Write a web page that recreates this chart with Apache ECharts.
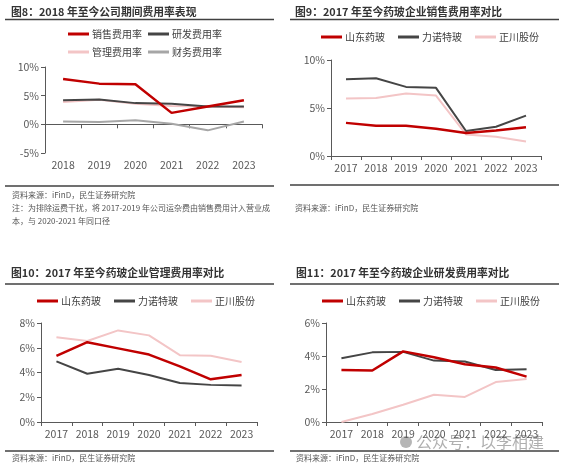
<!DOCTYPE html>
<html><head><meta charset="utf-8">
<script src="https://cdn.jsdelivr.net/npm/echarts@6/dist/echarts.min.js"></script>
<style>html,body{margin:0;padding:0;background:#fff}#c{width:567px;height:465px}</style>
</head><body><div id="c"></div>
<script>
const years8 = ['2018','2019','2020','2021','2022','2023'];
const years = ['2017','2018','2019','2020','2021','2022','2023'];
const sales8 = [7.9, 7.1, 7.0, 2.0, 3.1, 4.2];
const rd8 = [4.2, 4.35, 3.7, 3.6, 3.1, 3.1];
const admin8 = [3.9, 4.3, 3.6, 3.2, 3.1, 3.0];
const fin8 = [0.5, 0.4, 0.7, 0.1, -1.05, 0.5];
const salesSD = [3.45, 3.15, 3.15, 2.85, 2.4, 2.65, 3.0];
const salesLN = [8.0, 8.1, 7.2, 7.1, 2.6, 3.05, 4.2];
const salesZC = [6.0, 6.05, 6.5, 6.3, 2.25, 2.0, 1.5];
const adminSD = [5.35, 6.45, 5.95, 5.45, 4.5, 3.45, 3.8];
const adminLN = [4.9, 3.9, 4.3, 3.8, 3.15, 3.0, 2.95];
const adminZC = [6.85, 6.55, 7.4, 7.0, 5.4, 5.35, 4.85];
const rdSD = [3.15, 3.12, 4.28, 3.92, 3.5, 3.3, 2.75];
const rdLN = [3.87, 4.22, 4.25, 3.72, 3.67, 3.15, 3.2];
const rdZC = [0.0, 0.48, 1.05, 1.65, 1.52, 2.42, 2.6];

const RED = '#c00000', DARK = '#454545', PINK = '#f3c5c6', GRAY = '#a6a6a6';
const FONT = '"Noto Sans CJK SC", "Noto Sans", sans-serif';
const AX = '#595959';

function xAx(data, gi) {
  return { type: 'category', data: data, gridIndex: gi, boundaryGap: true,
    axisLine: { lineStyle: { color: AX, width: 1 } },
    axisTick: { show: true, length: 4, interval: 0, lineStyle: { color: AX } },
    axisLabel: { color: '#595959', fontSize: 10.5, fontFamily: FONT, margin: 7, interval: 0 } };
}
function yAx(min, max, interval, gi) {
  return { type: 'value', min: min, max: max, interval: interval, gridIndex: gi,
    axisLine: { show: true, lineStyle: { color: AX, width: 1 } },
    axisTick: { show: true, length: 4, lineStyle: { color: AX } },
    splitLine: { show: false },
    axisLabel: { formatter: '{value}%', color: '#595959', fontSize: 10.5, fontFamily: FONT, margin: 6 } };
}
function ser(name, data, color, gi, w) {
  return { type: 'line', name: name, data: data, xAxisIndex: gi, yAxisIndex: gi,
    symbol: 'none', lineStyle: { color: color, width: w }, itemStyle: { color: color },
    emphasis: { disabled: true } };
}
function leg(names, left, top, gap) {
  return { data: names, left: left, top: top, icon: 'rect', itemWidth: 21, itemHeight: 3,
    itemGap: gap, padding: 0, selectedMode: false,
    textStyle: { fontSize: 10, color: '#404040', fontFamily: FONT, padding: [0, 0, 0, -2] } };
}
function txt(x, y, s, size, weight, color) {
  return { type: 'text', x: x, y: y, silent: true,
    style: { text: s, fontSize: size, fontWeight: weight || 'normal', fontFamily: FONT,
      fill: color || '#404040', verticalAlign: 'middle' } };
}
function rule(x1, x2, y) {
  return { type: 'line', silent: true, shape: { x1: x1, y1: y, x2: x2, y2: y },
    style: { stroke: '#404040', lineWidth: 1.5 } };
}
const chart = echarts.init(document.getElementById('c'));
chart.setOption({
  animation: false,
  grid: [
    { left: 45, top: 67, width: 217, height: 86 },
    { left: 331, top: 60, width: 210, height: 96 },
    { left: 41, top: 323, width: 216, height: 99 },
    { left: 326, top: 323, width: 216, height: 99 }
  ],
  xAxis: [xAx(years8, 0), xAx(years, 1), xAx(years, 2), xAx(years, 3)],
  yAxis: [yAx(-5, 10, 5, 0), yAx(0, 10, 5, 1), yAx(0, 8, 2, 2), yAx(0, 6, 2, 3)],
  legend: [
    leg(['销售费用率', '研发费用率'], 68, 29, 6),
    leg(['管理费用率', '财务费用率'], 68, 47, 6),
    leg(['山东药玻', '力诺特玻', '正川股份'], 321, 32, 13),
    leg(['山东药玻', '力诺特玻', '正川股份'], 37, 296, 13),
    leg(['山东药玻', '力诺特玻', '正川股份'], 322, 296, 13)
  ],
  series: [
    ser('财务费用率', fin8, GRAY, 0, 2),
    ser('管理费用率', admin8, PINK, 0, 2),
    ser('研发费用率', rd8, DARK, 0, 2),
    ser('销售费用率', sales8, RED, 0, 2.5),
    ser('正川股份', salesZC, PINK, 1, 2),
    ser('力诺特玻', salesLN, DARK, 1, 2),
    ser('山东药玻', salesSD, RED, 1, 2.5),
    ser('正川股份', adminZC, PINK, 2, 2),
    ser('力诺特玻', adminLN, DARK, 2, 2),
    ser('山东药玻', adminSD, RED, 2, 2.5),
    ser('正川股份', rdZC, PINK, 3, 2),
    ser('力诺特玻', rdLN, DARK, 3, 2),
    ser('山东药玻', rdSD, RED, 3, 2.5)
  ],
  graphic: [
    txt(11, 12, '图8：2018 年至今公司期间费用率表现', 10.8, 'bold', '#333'),
    txt(295, 12, '图9：2017 年至今药玻企业销售费用率对比', 10.8, 'bold', '#333'),
    txt(11, 273, '图10：2017 年至今药玻企业管理费用率对比', 10.8, 'bold', '#333'),
    txt(296, 273, '图11：2017 年至今药玻企业研发费用率对比', 10.8, 'bold', '#333'),
    rule(5, 274, 19.5), rule(290, 559, 19.5), rule(5, 274, 284), rule(290, 559, 284),
    rule(5, 274, 186), rule(290, 559, 185), rule(5, 274, 451), rule(290, 559, 451),
    txt(12, 195, '资料来源：iFinD，民生证券研究院', 8, 'normal', '#555'),
    txt(12, 208, '注：为排除运费干扰，将 2017-2019 年公司运杂费由销售费用计入营业成', 8, 'normal', '#555'),
    txt(12, 221, '本，与 2020-2021 年同口径', 8, 'normal', '#555'),
    txt(295, 208, '资料来源：iFinD，民生证券研究院', 8, 'normal', '#555'),
    txt(12, 458, '资料来源：iFinD，民生证券研究院', 8, 'normal', '#555'),
    txt(296, 458, '资料来源：iFinD，民生证券研究院', 8, 'normal', '#555'),
    { type: 'circle', silent: true, shape: { cx: 406, cy: 442, r: 6 }, style: { fill: 'rgba(110,110,110,0.5)' } },
    txt(416, 442, '公众号：以李相建', 16, 'normal', 'rgba(110,110,110,0.55)')
  ]
});
</script></body></html>
